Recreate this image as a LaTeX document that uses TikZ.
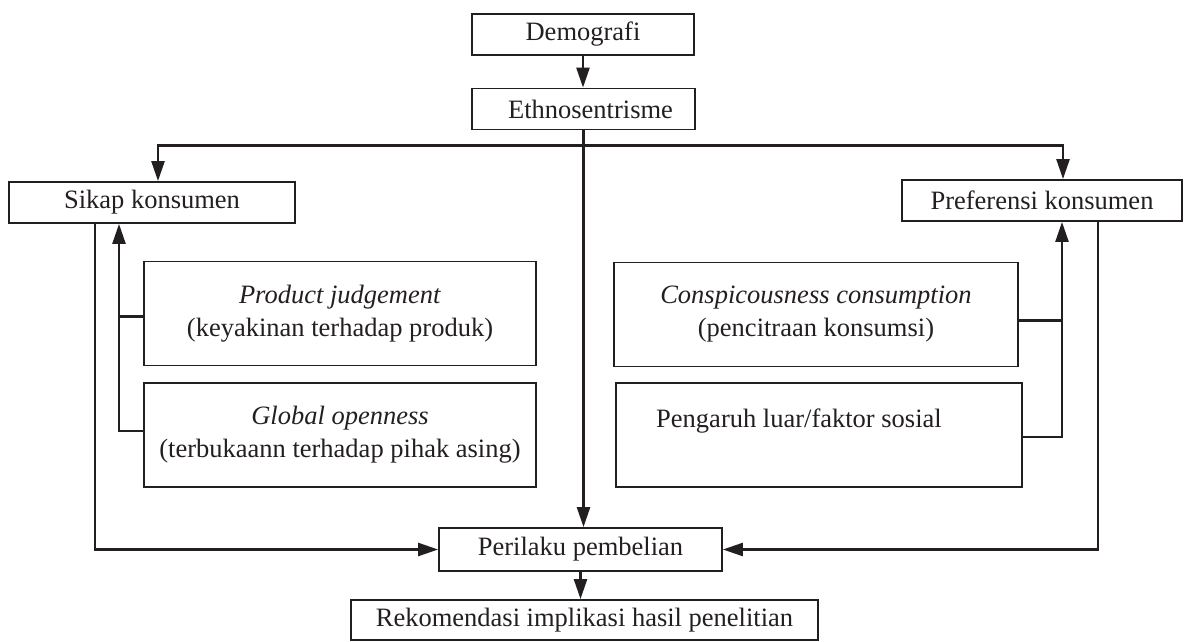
\documentclass[tikz,border=0pt]{standalone}
\usepackage{fontspec}
\setmainfont{Liberation Serif}
\usetikzlibrary{arrows.meta,calc}
\definecolor{ink}{HTML}{231F20}
\tikzset{
  mainbox/.style={
    draw=ink,
    text=ink,
    line width=1.8pt,
    inner sep=0pt,
    align=center,
    minimum height=41pt,
    font=\fontsize{26.5}{33}\selectfont
  },
  subbox/.style={
    mainbox,
    minimum height=104pt
  },
  link/.style={
    draw=ink,
    line width=2.4pt
  },
  arr/.style={
    link,
    -{Triangle[length=20pt,width=13pt]}
  }
}

\begin{document}
\begin{tikzpicture}[x=1pt,y=-1pt]
  \useasboundingbox (0,0) rectangle (1184,642);
  % top chain
  \node[mainbox, minimum width=222pt] (demo) at (583,34.5) {Demografi};
  \node[mainbox, minimum width=223pt] (ethno) at (583.5,109) {\hspace*{14pt}Ethnosentrisme};
  % two sides
  \node[mainbox, minimum width=286pt] (sikap) at (152,202.5) {Sikap konsumen};
  \node[mainbox, minimum width=280pt] (pref) at (1042,200.5) {Preferensi konsumen};
  % factors
  \node[subbox, minimum width=392pt] (prod) at (340,313.5) {\textit{Product judgement}\\(keyakinan terhadap produk)};
  \node[subbox, minimum width=392pt] (glob) at (340,435) {\textit{Global openness}\\(terbukaann terhadap pihak asing)};
  \node[subbox, minimum width=404pt] (consp) at (816,314.5) {\textit{Conspicousness consumption}\\(pencitraan konsumsi)};
  \node[subbox, minimum width=406pt] (peng) at (819,435) {Pengaruh luar/faktor sosial\hspace*{40pt}\\\mbox{}};
  % bottom chain
  \node[mainbox, minimum width=283pt, minimum height=43pt] (peri) at (580.5,549.5) {Perilaku pembelian};
  \node[mainbox, minimum width=467pt, minimum height=40pt] (reko) at (584.5,620) {Rekomendasi implikasi hasil penelitian};

  \coordinate (jn) at ($(ethno.south)+(0,15)$);
  \draw[arr] (demo.south) -- (demo.south |- ethno.north);
  \draw[arr] (ethno.south) -- (ethno.south |- peri.north);
  \draw[arr] (jn) -| ([xshift=6pt]sikap.north);
  \draw[arr] (jn) -| ([xshift=21pt]pref.north);
  % feedback to the attitude boxes
  \draw[link] ([yshift=-3pt]prod.west) -- ++(-25,0);
  \draw[arr] ([yshift=4pt]glob.west) -| ([xshift=-33pt]sikap.south);
  \draw[link] ([yshift=-6pt]consp.east) -- ++(44,0);
  \draw[arr] ([yshift=-2pt]peng.east) -| ([xshift=20pt]pref.south);
  % into the behaviour
  \draw[arr] ([xshift=-57pt]sikap.south) |- (peri.west);
  \draw[arr] ([xshift=56pt]pref.south) |- (peri.east);
  \draw[arr] (peri.south) -- (peri.south |- reko.north);
\end{tikzpicture}
\end{document}
